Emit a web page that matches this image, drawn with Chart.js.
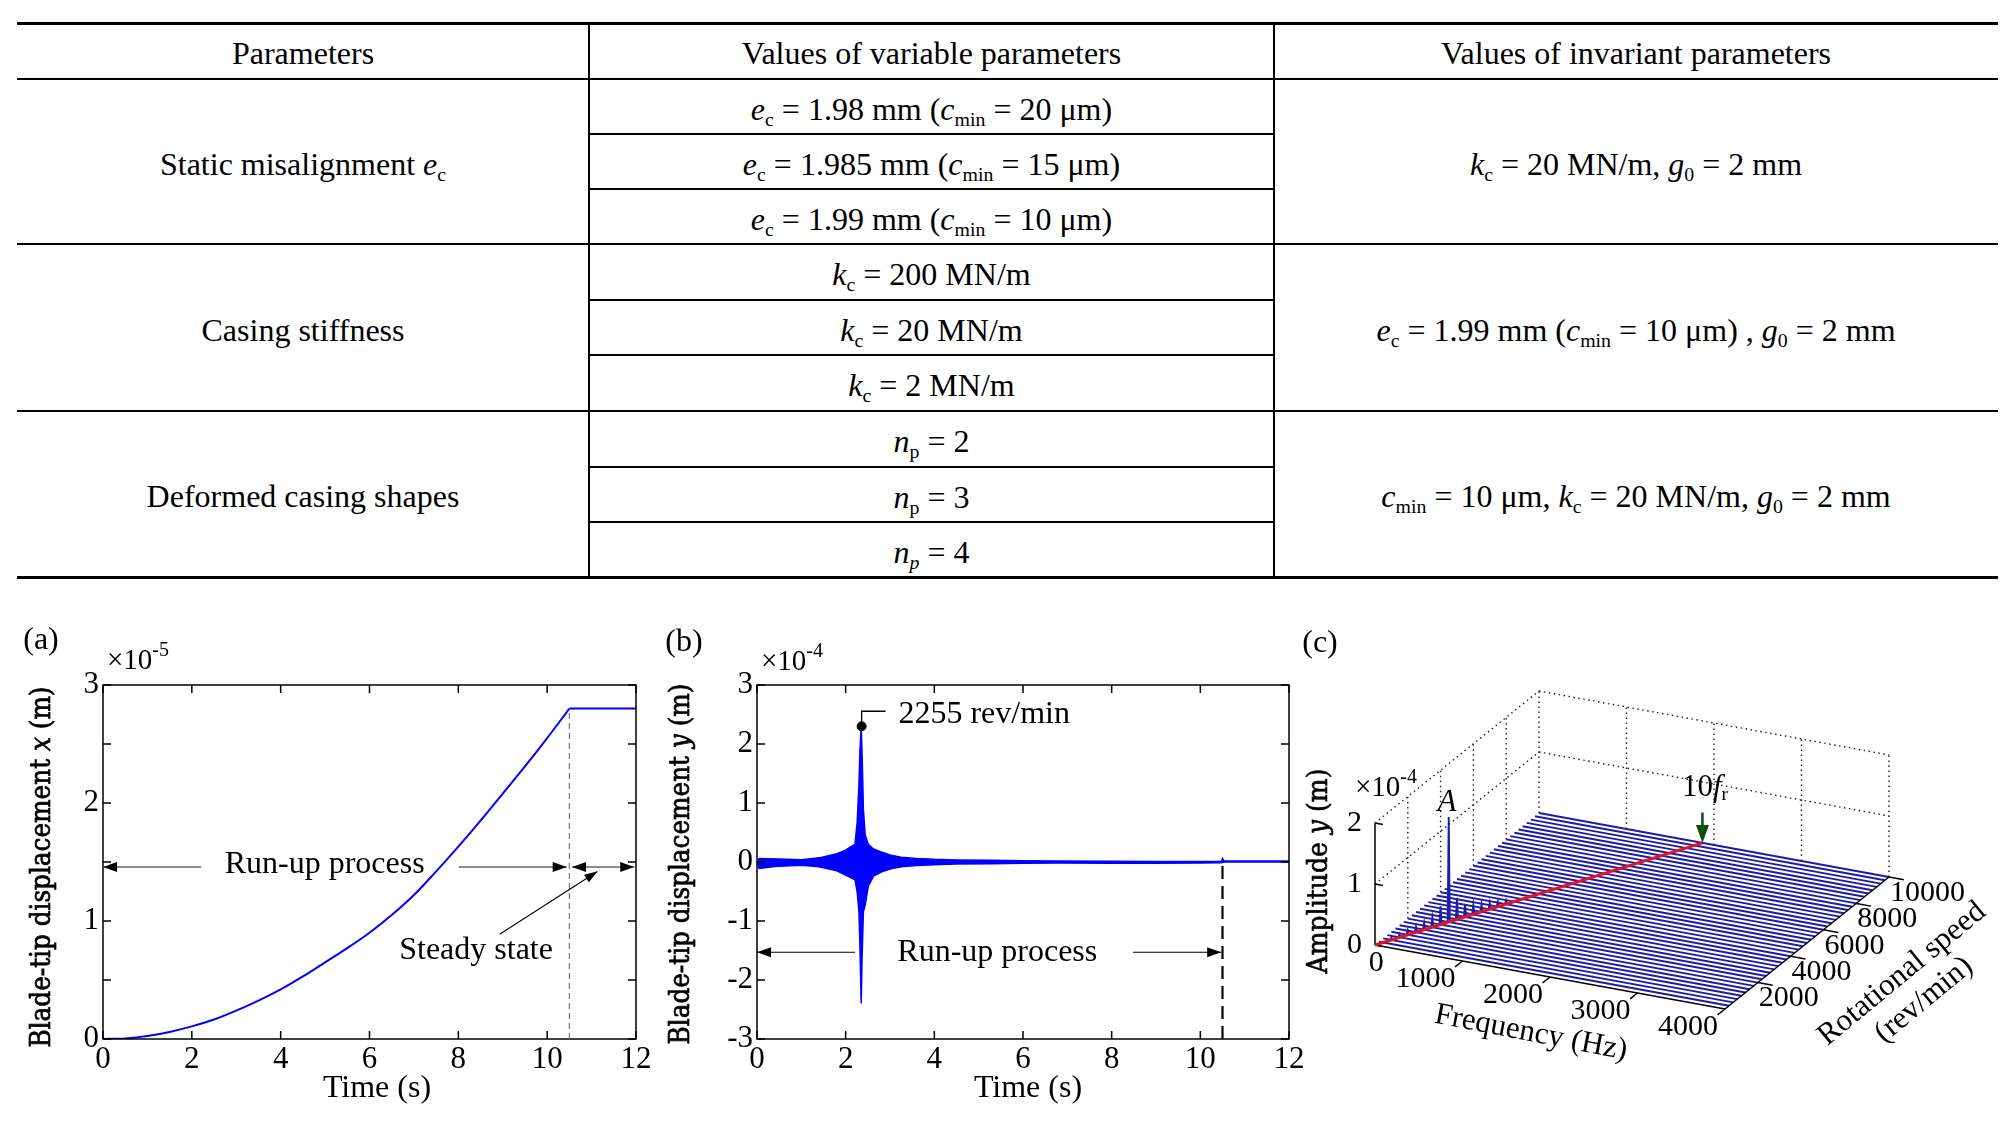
<!DOCTYPE html>
<html>
<head>
<meta charset="utf-8">
<script src="https://cdn.jsdelivr.net/npm/chart.js@4.4.1/dist/chart.umd.min.js"></script>
<style>
html, body { margin: 0; padding: 0; background: #fff; }
body { width: 2012px; height: 1121px; position: relative; overflow: hidden;
       font-family: 'Liberation Serif', 'Times New Roman', serif; color: #000; }
.rule { position: absolute; background: #000; }
.cell { position: absolute; transform: translate(-50%, -50%); white-space: nowrap;
        font-size: 32px; line-height: 1; }
.cell sub { font-size: 62%; vertical-align: -0.28em; line-height: 0; }
canvas { position: absolute; }
</style>
</head>
<body>
<div id="table"></div>
<canvas id="chartA" width="660" height="500" style="left:0px;top:620px;width:660px;height:500px"></canvas>
<canvas id="chartB" width="660" height="500" style="left:660px;top:620px;width:660px;height:500px"></canvas>
<canvas id="chartC" width="722" height="500" style="left:1290px;top:620px;width:722px;height:500px"></canvas>
<script>
// ---- table contents ----
const tableHeader = ['Parameters', 'Values of variable parameters', 'Values of invariant parameters'];
const groupNames = ['Static misalignment <i>e</i><sub>c</sub>', 'Casing stiffness', 'Deformed casing shapes'];
const variableValues = [
    ['<i>e</i><sub>c</sub> = 1.98 mm (<i>c</i><sub>min</sub> = 20 μm)',
     '<i>e</i><sub>c</sub> = 1.985 mm (<i>c</i><sub>min</sub> = 15 μm)',
     '<i>e</i><sub>c</sub> = 1.99 mm (<i>c</i><sub>min</sub> = 10 μm)'],
    ['<i>k</i><sub>c</sub> = 200 MN/m', '<i>k</i><sub>c</sub> = 20 MN/m', '<i>k</i><sub>c</sub> = 2 MN/m'],
    ['<i>n</i><sub>p</sub> = 2', '<i>n</i><sub>p</sub> = 3', '<i>n</i><sub><i>p</i></sub> = 4']
];
const invariantValues = [
    '<i>k</i><sub>c</sub> = 20 MN/m, <i>g</i><sub>0</sub> = 2 mm',
    '<i>e</i><sub>c</sub> = 1.99 mm (<i>c</i><sub>min</sub> = 10 μm) , <i>g</i><sub>0</sub> = 2 mm',
    '<i>c</i><sub>min</sub> = 10 μm, <i>k</i><sub>c</sub> = 20 MN/m, <i>g</i><sub>0</sub> = 2 mm'
];

// ---- (a) blade-tip displacement x, units of 1e-5 m ----
const runupTime = [0, 0.5, 1, 1.5, 2, 2.5, 3, 3.5, 4, 4.5, 5, 5.5, 6, 6.5, 7, 7.5, 8, 8.5, 9, 9.5, 10, 10.5];
const runupDisp = [0, 0.005, 0.025, 0.06, 0.107, 0.165, 0.24, 0.325, 0.42, 0.53, 0.65, 0.77, 0.9, 1.05, 1.22, 1.42, 1.63, 1.85, 2.08, 2.31, 2.55, 2.8];
const steadyTime = [10.5, 12];
const steadyDisp = [2.8, 2.8];

// ---- (b) blade-tip displacement y envelope, units of 1e-4 m ----
const envTime  = [0, 0.05, 0.5, 1.0, 1.4, 1.8, 2.0, 2.1, 2.21, 2.26, 2.30, 2.32, 2.35, 2.37, 2.40, 2.44, 2.51, 2.63, 2.8, 3.0,
                  3.25, 3.6, 4.0, 4.5, 5.3, 6.0, 6.8, 8.0, 9.0, 10.0, 10.48, 10.5, 10.53, 10.6, 12];
const envUpper = [0, 0.06, 0.05, 0.04, 0.07, 0.14, 0.2, 0.25, 0.30, 0.68, 1.32, 1.86, 2.28, 1.86, 0.89, 0.46, 0.30, 0.22, 0.17, 0.12,
                  0.08, 0.06, 0.045, 0.035, 0.028, 0.022, 0.017, 0.012, 0.01, 0.008, 0.008, 0.06, 0.02, 0.015, 0.015];
const envLower = [0, -0.11, -0.07, -0.055, -0.08, -0.15, -0.22, -0.26, -0.30, -0.51, -0.84, -1.38, -2.4, -1.65, -0.84, -0.73, -0.41, -0.24, -0.17, -0.12,
                  -0.08, -0.06, -0.045, -0.035, -0.028, -0.022, -0.017, -0.02, -0.02, -0.015, -0.012, -0.01, 0, 0, 0];
const peakTime = 2.36;
const peakDisp = 2.30;

// ---- (c) waterfall, amplitude in 1e-4 m ----
const wfSpeeds = [250, 500, 750, 1000, 1250, 1500, 1750, 2000, 2250, 2500, 2750, 3000, 3250, 3500, 3750, 4000,
                  4250, 4500, 4750, 5000, 5250, 5500, 5750, 6000, 6250, 6500, 6750, 7000, 7250, 7500, 7750, 8000,
                  8250, 8500, 8750, 9000, 9250, 9500, 9750, 10000];
const bumpSpeeds = [500, 750, 1000, 1250, 1500, 1750, 2000, 2250, 2500, 2750, 3000, 3250, 3500, 3750, 4000];
const bumpFreqs  = [94, 140, 187, 234, 281, 327, 374, 421, 468, 514, 561, 608, 655, 701, 748];
const bumpAmps   = [0.04, 0.05, 0.07, 0.09, 0.11, 0.15, 0.3, 1.72, 0.35, 0.2, 0.15, 0.12, 0.1, 0.08, 0.06];
const orderLineFreq  = [0, 1868];   // 10 f_r
const orderLineSpeed = [0, 10000];
const freqTicks  = [0, 1000, 2000, 3000, 4000];
const speedTicks = [2000, 4000, 6000, 8000, 10000];
const ampTicks   = [0, 1, 2];

const SERIF = "'Liberation Serif', 'Times New Roman', serif";
const WIDE = "'DejaVu Serif Condensed', 'DejaVu Serif', serif";

// ---------- table ----------
(function buildTable() {
    const host = document.getElementById('table');
    const colX = [17, 589, 1274, 1998];
    const rowY = [23, 79, 134, 189, 244, 300, 355, 411, 467, 522, 577];
    const fullRows = [0, 1, 4, 7, 10];
    const add = (cls, css, html) => {
        const d = document.createElement('div');
        d.className = cls;
        Object.assign(d.style, css);
        if (html) d.innerHTML = html;
        host.appendChild(d);
    };
    rowY.forEach((y, i) => {
        const full = fullRows.includes(i);
        const w = (i === 0 || i === 10) ? 3 : full ? 2.5 : 1.5;
        const x0 = full ? colX[0] : colX[1];
        const x1 = full ? colX[3] : colX[2];
        add('rule', { left: x0 + 'px', top: (y - w / 2) + 'px', width: (x1 - x0) + 'px', height: w + 'px' });
    });
    [colX[1], colX[2]].forEach(x => {
        add('rule', { left: (x - 0.75) + 'px', top: rowY[0] + 'px', width: '1.5px', height: (rowY[10] - rowY[0]) + 'px' });
    });
    const cx = [(colX[0] + colX[1]) / 2, (colX[1] + colX[2]) / 2, (colX[2] + colX[3]) / 2];
    const place = (x, y, html) => add('cell', { left: x + 'px', top: (y + 2) + 'px' }, html);
    tableHeader.forEach((t, i) => place(cx[i], (rowY[0] + rowY[1]) / 2, t));
    groupNames.forEach((g, gi) => {
        const top = rowY[1 + gi * 3], bot = rowY[4 + gi * 3];
        place(cx[0], (top + bot) / 2, g);
        place(cx[2], (top + bot) / 2, invariantValues[gi]);
        variableValues[gi].forEach((v, r) => {
            place(cx[1], (rowY[1 + gi * 3 + r] + rowY[2 + gi * 3 + r]) / 2, v);
        });
    });
})();

// ---------- drawing helpers ----------
function drawRich(ctx, parts, x, y, o = {}) {
    const size = o.size || 32, fam = o.family || SERIF;
    const fontOf = k => {
        const small = k === 'sub' || k === 'sup' || k === 'isub';
        const it = k === 'i' || k === 'isub';
        return (it ? 'italic ' : '') + (small ? Math.round(size * (o.small || 0.62)) : size) + 'px ' + fam;
    };
    ctx.save();
    let total = 0;
    const widths = parts.map(([t, k]) => { ctx.font = fontOf(k); const w = ctx.measureText(t).width; total += w; return w; });
    ctx.translate(x, y);
    if (o.rot) ctx.rotate(o.rot);
    let cx = o.align === 'left' ? 0 : o.align === 'right' ? -total : -total / 2;
    ctx.textBaseline = 'middle';
    ctx.textAlign = 'left';
    ctx.fillStyle = o.color || '#000';
    ctx.strokeStyle = o.color || '#000';
    ctx.lineWidth = o.heavy || 0;
    parts.forEach(([t, k], i) => {
        ctx.font = fontOf(k);
        const dy = (k === 'sub' || k === 'isub') ? size * 0.24 : k === 'sup' ? -size * 0.36 : 0;
        ctx.fillText(t, cx, dy);
        if (o.heavy) ctx.strokeText(t, cx, dy);
        cx += widths[i];
    });
    ctx.restore();
    return total;
}

// font size so that the rich text spans the given length
function fitSize(ctx, parts, family, length) {
    ctx.save();
    let w = 0;
    parts.forEach(([t, k]) => { ctx.font = (k === 'i' ? 'italic ' : '') + '100px ' + family; w += ctx.measureText(t).width; });
    ctx.restore();
    return 100 * length / w;
}

function line(ctx, x1, y1, x2, y2) {
    ctx.beginPath(); ctx.moveTo(x1, y1); ctx.lineTo(x2, y2); ctx.stroke();
}

function arrowHead(ctx, x, y, ang, len = 14, half = 5) {
    const c = Math.cos(ang), s = Math.sin(ang);
    ctx.beginPath();
    ctx.moveTo(x, y);
    ctx.lineTo(x - len * c + half * s, y - len * s - half * c);
    ctx.lineTo(x - len * c - half * s, y - len * s + half * c);
    ctx.closePath();
    ctx.fill();
}

// box with inward ticks on all four sides
const frameTicks = {
    id: 'frameTicks',
    afterDatasetsDraw(chart) {
        const { ctx, chartArea: a } = chart;
        const x = chart.scales.x, y = chart.scales.y;
        ctx.save();
        ctx.strokeStyle = '#000';
        ctx.lineWidth = 1.5;
        ctx.strokeRect(a.left, a.top, a.right - a.left, a.bottom - a.top);
        ctx.beginPath();
        x.ticks.forEach(t => {
            const p = x.getPixelForValue(t.value);
            ctx.moveTo(p, a.bottom); ctx.lineTo(p, a.bottom - 8);
            ctx.moveTo(p, a.top); ctx.lineTo(p, a.top + 8);
        });
        y.ticks.forEach(t => {
            const p = y.getPixelForValue(t.value);
            ctx.moveTo(a.left, p); ctx.lineTo(a.left + 8, p);
            ctx.moveTo(a.right, p); ctx.lineTo(a.right - 8, p);
        });
        ctx.stroke();
        ctx.restore();
    }
};

function timeScales(yMin, yMax, yStep, padX) {
    const tickFont = { family: SERIF, size: 31, lineHeight: 1 };
    return {
        x: {
            type: 'linear', min: 0, max: 12,
            afterFit: s => { s.height = 45; s.paddingLeft = 0; s.paddingRight = 0; },
            grid: { display: false, drawTicks: false },
            border: { display: false },
            ticks: { stepSize: 2, padding: 5, font: tickFont, color: '#000', maxRotation: 0, autoSkip: false }
        },
        y: {
            type: 'linear', min: yMin, max: yMax,
            afterFit: s => { s.width = 45; s.paddingTop = 0; s.paddingBottom = 0; },
            grid: { display: false, drawTicks: false },
            border: { display: false },
            ticks: {
                stepSize: yStep, padding: padX, font: tickFont, color: '#000', autoSkip: false,
                callback: v => Number.isInteger(v) ? String(v) : ''
            }
        }
    };
}

const pts = (xs, ys) => xs.map((x, i) => ({ x, y: ys[i] }));
const baseOptions = (padding, scales) => ({
    responsive: false, animation: false,
    layout: { padding },
    plugins: { legend: { display: false }, tooltip: { enabled: false } },
    scales
});

// ---------- (a) ----------
const annotA = {
    id: 'annotA',
    afterDraw(chart) {
        const { ctx } = chart;
        const X = v => chart.scales.x.getPixelForValue(v), Y = v => chart.scales.y.getPixelForValue(v);
        ctx.save();
        ctx.strokeStyle = '#7a7a7a'; ctx.lineWidth = 1.2; ctx.setLineDash([6, 4]);
        line(ctx, X(10.5), Y(0), X(10.5), Y(2.8));
        ctx.setLineDash([]);
        const ya = Y(1.457);
        ctx.strokeStyle = '#666'; ctx.lineWidth = 1.6;
        line(ctx, X(0), ya, X(2.21), ya);
        line(ctx, X(8.01), ya, X(10.44), ya);
        line(ctx, X(10.56), ya, X(11.96), ya);
        ctx.fillStyle = '#000';
        arrowHead(ctx, X(0), ya, Math.PI);
        arrowHead(ctx, X(10.44), ya, 0);
        arrowHead(ctx, X(10.56), ya, Math.PI);
        arrowHead(ctx, X(11.96), ya, 0);
        drawRich(ctx, [['Run-up process', '']], X(4.99), Y(1.48));
        drawRich(ctx, [['Steady state', '']], X(8.40), Y(0.747));
        ctx.strokeStyle = '#000'; ctx.lineWidth = 1.1;
        const x1 = X(8.93), y1 = Y(0.888), x2 = X(11.13), y2 = Y(1.42);
        line(ctx, x1, y1, x2, y2);
        arrowHead(ctx, x2, y2, Math.atan2(y2 - y1, x2 - x1), 13, 4.5);
        // labels and titles
        drawRich(ctx, [['(a)', '']], 41, 21);
        drawRich(ctx, [['×10', ''], ['-5', 'sup']], 107, 41, { align: 'left', size: 29, small: 0.7 });
        drawRich(ctx, [['Time (s)', '']], 377, 469);
        const yt = [['Blade-tip displacement ', ''], ['x', 'i'], [' (m)', '']];
        drawRich(ctx, yt, 43, 247, { rot: -Math.PI / 2, family: WIDE, size: fitSize(ctx, yt, WIDE, 361), heavy: 0.7 });
        ctx.restore();
    }
};

new Chart(document.getElementById('chartA'), {
    type: 'line',
    data: {
        datasets: [
            { data: pts(runupTime, runupDisp), borderColor: '#0000ff', borderWidth: 2, pointRadius: 0,
              cubicInterpolationMode: 'monotone', fill: false },
            { data: pts(steadyTime, steadyDisp), borderColor: '#0000ff', borderWidth: 2, pointRadius: 0, fill: false }
        ]
    },
    options: baseOptions({ left: 58, top: 65, right: 24, bottom: 36 }, timeScales(0, 3, 0.5, 4)),
    plugins: [frameTicks, annotA]
});

// ---------- (b) ----------
const annotB = {
    id: 'annotB',
    afterDraw(chart) {
        const { ctx } = chart;
        const X = v => chart.scales.x.getPixelForValue(v), Y = v => chart.scales.y.getPixelForValue(v);
        ctx.save();
        ctx.strokeStyle = '#000'; ctx.lineWidth = 2.2; ctx.setLineDash([13, 7]);
        line(ctx, X(10.5), Y(-3), X(10.5), Y(0.05));
        ctx.setLineDash([]);
        ctx.lineWidth = 1.3;
        ctx.beginPath();
        ctx.moveTo(X(peakTime), Y(peakDisp));
        ctx.lineTo(X(peakTime), Y(2.555));
        ctx.lineTo(X(2.9), Y(2.555));
        ctx.stroke();
        drawRich(ctx, [['2255 rev/min', '']], X(3.19), Y(2.50), { align: 'left' });
        const ya = Y(-1.53);
        ctx.lineWidth = 1.1;
        ctx.fillStyle = '#000';
        line(ctx, X(0), ya, X(2.21), ya);
        line(ctx, X(8.48), ya, X(10.47), ya);
        arrowHead(ctx, X(0), ya, Math.PI);
        arrowHead(ctx, X(10.47), ya, 0);
        drawRich(ctx, [['Run-up process', '']], X(5.42), ya);
        drawRich(ctx, [['(b)', '']], 24, 23);
        drawRich(ctx, [['×10', ''], ['-4', 'sup']], 101, 42, { align: 'left', size: 29, small: 0.7 });
        drawRich(ctx, [['Time (s)', '']], 368, 469);
        const yt = [['Blade-tip displacement ', ''], ['y', 'i'], [' (m)', '']];
        drawRich(ctx, yt, 22, 244, { rot: -Math.PI / 2, family: WIDE, size: fitSize(ctx, yt, WIDE, 361), heavy: 0.7 });
        ctx.restore();
    }
};

new Chart(document.getElementById('chartB'), {
    type: 'line',
    data: {
        datasets: [
            { data: pts(envTime, envUpper), borderColor: '#0000ff', borderWidth: 1.5, pointRadius: 0, fill: false, order: 2 },
            { data: pts(envTime, envLower), borderColor: '#0000ff', borderWidth: 1.5, pointRadius: 0,
              fill: '-1', backgroundColor: '#0000ff', order: 2 },
            { data: [{ x: peakTime, y: peakDisp }], showLine: false, pointRadius: 4.5,
              pointBackgroundColor: '#000', pointBorderColor: '#000', order: 1 }
        ]
    },
    options: baseOptions({ left: 52, top: 65, right: 31, bottom: 36 }, timeScales(-3, 3, 1, 4)),
    plugins: [frameTicks, annotB]
});

// ---------- (c) waterfall in an oblique 3-D view ----------
// screen offset (px) per Hz, per rev/min and per 1e-4 m
const VIEW = { fx: 0.0875, fy: -0.016, sx: 0.0164, sy: 0.0132, az: 61 };
const P = (f, s, a) => ({ x: f * VIEW.fx + s * VIEW.sx, y: f * VIEW.fy + s * VIEW.sy + a * VIEW.az });
const freqMax = freqTicks[freqTicks.length - 1];
const speedMax = speedTicks[speedTicks.length - 1];
const ampMax = ampTicks[ampTicks.length - 1];

const gridSegs = [];
ampTicks.filter(a => a > 0).forEach(a => {
    gridSegs.push([P(0, 0, a), P(0, speedMax, a)]);
    gridSegs.push([P(0, speedMax, a), P(freqMax, speedMax, a)]);
});
speedTicks.forEach(s => gridSegs.push([P(0, s, 0), P(0, s, ampMax)]));
freqTicks.filter(f => f > 0).forEach(f => gridSegs.push([P(f, speedMax, 0), P(f, speedMax, ampMax)]));

const traces = wfSpeeds.map(s => {
    const p = [P(0, s, 0)];
    const k = bumpSpeeds.indexOf(s);
    if (k >= 0) {
        const f = bumpFreqs[k];
        p.push(P(f - 12, s, 0), P(f, s, bumpAmps[k]), P(f + 12, s, 0));
    }
    p.push(P(freqMax, s, 0));
    return p;
});

const axisSegs = [
    [P(0, 0, 0), P(0, 0, ampMax)],
    [P(0, 0, 0), P(freqMax, 0, 0)],
    [P(freqMax, 0, 0), P(freqMax, speedMax, 0)]
];
ampTicks.forEach(a => axisSegs.push([P(0, 0, a), P(90, 0, a)]));
freqTicks.filter(f => f > 0).forEach(f => axisSegs.push([P(f, 0, 0), P(f, -450, 0)]));
speedTicks.forEach(s => axisSegs.push([P(freqMax, s, 0), P(freqMax + 170, s, 0)]));

const orderLine = pts(orderLineFreq, orderLineSpeed).map(q => P(q.x, q.y, 0));
const arrowTip = P(orderLineFreq[1], orderLineSpeed[1], 0);
const arrowTail = P(orderLineFreq[1], orderLineSpeed[1], 0.5);

const seg = (data, style, order) => Object.assign({ data, showLine: true, pointRadius: 0, fill: false, order }, style);
const datasetsC = [
    ...gridSegs.map(d => seg(d, { borderColor: '#222', borderWidth: 1.4, borderDash: [1.5, 3.5] }, 10)),
    ...traces.map(d => seg(d, { borderColor: '#1c1ca8', borderWidth: 1.9 }, 5)),
    ...axisSegs.map(d => seg(d, { borderColor: '#000', borderWidth: 1.5 }, 3)),
    seg(orderLine, { borderColor: '#e3141e', borderWidth: 3 }, 2),
    seg([arrowTail, P(orderLineFreq[1], orderLineSpeed[1], 0.2)], { borderColor: '#0b4f0b', borderWidth: 2.5 }, 1)
];

const annotC = {
    id: 'annotC',
    afterDraw(chart) {
        const { ctx } = chart;
        const X = q => chart.scales.x.getPixelForValue(q.x), Y = q => chart.scales.y.getPixelForValue(q.y);
        ctx.save();
        ctx.fillStyle = '#0b4f0b';
        arrowHead(ctx, X(arrowTip), Y(arrowTip), Math.PI / 2, 18, 6.5);
        ctx.fillStyle = '#000';
        ampTicks.forEach(a => {
            const q = P(0, 0, a);
            drawRich(ctx, [[String(a), '']], X(q) - 13, Y(q), { align: 'right', size: 30 });
        });
        ctx.font = '30px ' + SERIF;
        freqTicks.forEach(f => {
            const q = P(f, 0, 0);
            const w = ctx.measureText(String(f)).width;
            drawRich(ctx, [[String(f), '']], X(q) + 14 - 0.85 * w, Y(q) + 18, { size: 30 });
        });
        speedTicks.forEach(s => {
            const q = P(freqMax, s, 0);
            drawRich(ctx, [[String(s), '']], X(q) + 1, Y(q) + 16, { align: 'left', size: 30 });
        });
        drawRich(ctx, [['(c)', '']], 30, 24);
        drawRich(ctx, [['×10', ''], ['-4', 'sup']], 65, 168, { align: 'left', size: 29, small: 0.7 });
        drawRich(ctx, [['A', 'i']], 157, 183, { size: 31 });
        drawRich(ctx, [['10', ''], ['f', 'i'], ['r', 'sub']], 392, 168, { align: 'left', size: 31 });
        drawRich(ctx, [['Frequency (Hz)', '']], 241, 413, { rot: 0.19, size: 31 });
        drawRich(ctx, [['Rotational speed', '']], 612, 354, { rot: -0.69, size: 31 });
        drawRich(ctx, [['(rev/min)', '']], 634, 380, { rot: -0.69, size: 31 });
        const zt = [['Amplitude ', ''], ['y', 'i'], [' (m)', '']];
        drawRich(ctx, zt, 30, 251, { rot: -Math.PI / 2, family: WIDE, size: fitSize(ctx, zt, WIDE, 205), heavy: 0.6 });
        ctx.restore();
    }
};

new Chart(document.getElementById('chartC'), {
    type: 'scatter',
    data: { datasets: datasetsC },
    options: {
        responsive: false, animation: false,
        layout: { padding: 0 },
        plugins: { legend: { display: false }, tooltip: { enabled: false } },
        scales: {
            x: { type: 'linear', min: -85, max: 637, display: false },
            y: { type: 'linear', min: -175, max: 325, display: false }
        }
    },
    plugins: [annotC]
});
</script>
</body>
</html>
